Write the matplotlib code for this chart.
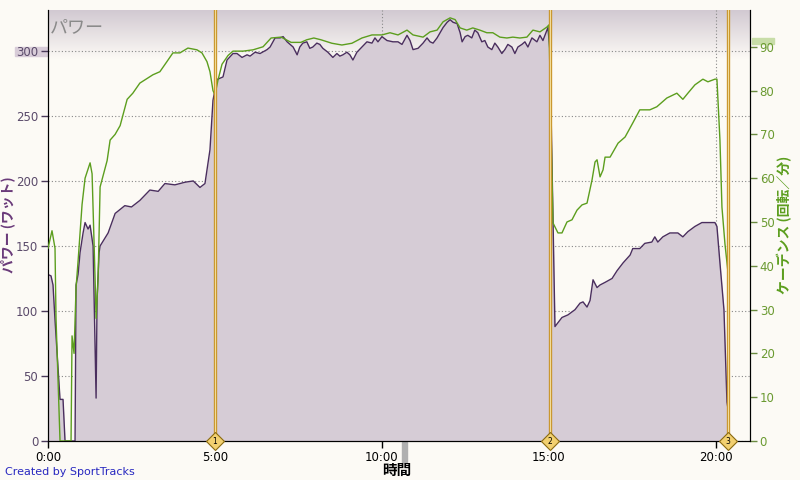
import numpy as np
import matplotlib.pyplot as plt
from matplotlib.ticker import FuncFormatter, MultipleLocator
from matplotlib.patches import Rectangle
from matplotlib.colors import LinearSegmentedColormap

plt.rcParams['font.family'] = ['DejaVu Sans', 'Noto Sans CJK JP']
JP = ['Noto Sans CJK JP', 'DejaVu Sans']

# power (W) vs. elapsed time (minutes)
power_t = [0.00, 0.09, 0.15, 0.21, 0.36, 0.45, 0.51, 0.81, 0.84, 0.90, 0.96, 1.05,
           1.11, 1.20, 1.26, 1.35, 1.44, 1.47, 1.53, 1.56, 1.80, 2.01, 2.30, 2.50,
           2.75, 3.05, 3.30, 3.50, 3.80, 4.10, 4.35, 4.55, 4.70, 4.85, 4.94, 5.06,
           5.24, 5.36, 5.54, 5.66, 5.81, 5.96, 6.05, 6.20, 6.35, 6.56, 6.65, 6.80,
           6.95, 7.04, 7.16, 7.25, 7.34, 7.46, 7.54, 7.63, 7.75, 7.84, 7.93, 8.05,
           8.14, 8.23, 8.38, 8.53, 8.65, 8.74, 8.83, 8.95, 9.04, 9.13, 9.25, 9.40,
           9.55, 9.70, 9.79, 9.88, 10.00, 10.15, 10.33, 10.48, 10.60, 10.75, 10.84,
           10.93, 11.08, 11.23, 11.35, 11.44, 11.53, 11.65, 11.74, 11.83, 11.95,
           12.04, 12.13, 12.25, 12.34, 12.40, 12.49, 12.57, 12.69, 12.78, 12.87,
           12.99, 13.08, 13.17, 13.29, 13.38, 13.47, 13.59, 13.68, 13.77, 13.89,
           13.98, 14.07, 14.19, 14.28, 14.37, 14.49, 14.64, 14.73, 14.82, 14.94,
           14.97, 15.03, 15.18, 15.39, 15.57, 15.78, 15.93, 16.02, 16.14, 16.23,
           16.32, 16.44, 16.53, 16.68, 16.89, 17.04, 17.22, 17.43, 17.51, 17.72,
           17.87, 18.08, 18.17, 18.26, 18.41, 18.62, 18.86, 19.01, 19.16, 19.37,
           19.58, 19.76, 19.97, 20.03, 20.12, 20.24, 20.33, 20.36]
power_w = [128, 127, 120, 93, 32, 32, 0, 0, 120, 128, 145, 160,
           168, 163, 166, 150, 33, 110, 145, 150, 160, 175, 181, 180,
           185, 193, 192, 198, 197, 199, 200, 195, 198, 224, 262, 278,
           280, 293, 298, 298, 295, 297, 296, 299, 298, 301, 303, 310,
           310, 311, 307, 305, 303, 297, 303, 306, 307, 302, 303, 306,
           305, 302, 299, 295, 298, 296, 297, 299, 297, 293, 299, 303,
           307, 306, 310, 307, 311, 308, 307, 307, 305, 312, 308,
           301, 302, 306, 310, 307, 306, 310, 314, 318, 322,
           324, 322, 321, 314, 307, 311, 312, 310, 316, 314,
           307, 308, 303, 301, 306, 303, 298, 301, 305, 303,
           298, 303, 305, 307, 303, 310, 307, 312, 308, 316,
           318, 300, 88, 95, 97, 101, 106, 107, 103, 108,
           124, 118, 120, 122, 125, 131, 137, 143, 148, 148,
           152, 153, 157, 153, 157, 160, 160, 157, 161, 165,
           168, 168, 168, 165, 137, 101, 30, 25]

# cadence (rpm) vs. elapsed time (minutes)
cad_t = [0.00, 0.12, 0.21, 0.24, 0.36, 0.69, 0.72, 0.78, 0.84, 0.90, 1.02, 1.11,
         1.26, 1.32, 1.41, 1.44, 1.50, 1.56, 1.77, 1.86, 2.01, 2.16, 2.37, 2.54,
         2.75, 3.14, 3.35, 3.56, 3.74, 3.95, 4.19, 4.46, 4.61, 4.76, 4.85, 4.94,
         5.00, 5.09, 5.21, 5.39, 5.54, 5.84, 6.14, 6.44, 6.68, 6.98, 7.28, 7.57,
         7.75, 7.96, 8.17, 8.50, 8.80, 9.10, 9.40, 9.70, 10.00, 10.24, 10.48,
         10.75, 10.93, 11.23, 11.44, 11.65, 11.83, 12.04, 12.19, 12.34, 12.54,
         12.72, 12.93, 13.14, 13.32, 13.53, 13.74, 13.92, 14.13, 14.34, 14.52,
         14.73, 14.94, 15.00, 15.12, 15.27, 15.39, 15.54, 15.69, 15.84, 15.99,
         16.14, 16.29, 16.38, 16.44, 16.53, 16.62, 16.68, 16.83, 17.07, 17.28,
         17.51, 17.72, 18.02, 18.23, 18.53, 18.83, 19.01, 19.16, 19.37, 19.61,
         19.76, 19.97, 20.03, 20.12, 20.18, 20.27, 20.36]
cad_rpm = [44, 48, 44, 28, 0, 0, 24, 20, 35, 41, 54, 60,
           63.5, 61, 37, 28, 37, 58, 64, 68.7, 70, 72, 78, 79.4,
           81.7, 83.6, 84.3, 86.6, 88.6, 88.6, 89.7, 89.3, 88.6, 86.6, 84.3, 80,
           79, 82.4, 86, 88, 89, 89, 89.3, 90, 92, 92.2, 91, 91,
           91.6, 92, 91.6, 90.8, 90.4, 90.8, 92, 92.7, 92.7, 93.2, 92.7,
           93.8, 92.7, 92.2, 93.4, 93.8, 95.7, 96.6, 96.2, 94.3, 93.8,
           94.3, 93.8, 93.2, 93.2, 92.2, 92, 92.2, 92, 92.2, 93.8,
           93.4, 94.5, 95, 49.8, 47.5, 47.5, 50, 50.5, 52.7, 53.9,
           54.3, 59.6, 63.7, 64.2, 60.3, 61.9, 64.8, 64.8, 68, 69.4,
           72.6, 75.6, 75.6, 76.3, 78.3, 79.4, 78, 79.4, 81.3, 82.6,
           82, 82.6, 82.6, 68.7, 53.4, 45, 38.6]

laps_t = [5.0, 15.02, 20.37]
laps_label = ['1', '2', '3']

bg = '#FCFAF5'
fig = plt.figure(figsize=(8, 4.8), dpi=100, facecolor=bg)
ax = fig.add_axes([0.06, 0.08125, 0.8775, 0.898])
ax.set_facecolor(bg)
ax.set_xlim(0, 21.02)
ax.set_ylim(0, 331.5)

# header gradient at the top of the plot
head = LinearSegmentedColormap.from_list('head', [bg, '#D2C9D2'])
grad = np.linspace(1, 0, 64).reshape(-1, 1)
ax.imshow(grad, extent=[0, 21.02, 294, 331.5], aspect='auto', cmap=head,
          vmin=0, vmax=1, zorder=0, origin='upper')

# grid
for y in range(0, 331, 50):
    ax.axhline(y, color='#888888', lw=0.8, ls=(0, (1, 2)), zorder=1)
for x in [10, 20]:
    ax.axvline(x, color='#888888', lw=0.8, ls=(0, (1, 2)), zorder=1)

ax.fill_between(power_t, power_w, 0, color='#D6CCD6', zorder=2, lw=0)
ax.plot(power_t, power_w, color='#4A2E5E', lw=1, zorder=3)

ax2 = ax.twinx()
ax2.set_ylim(0, 98.4)
ax2.plot(cad_t, cad_rpm, color='#5C9E1E', lw=1, zorder=4)

for t, lab in zip(laps_t, laps_label):
    ax2.axvline(t, color='#C8952A', lw=2.4, zorder=5)
    ax2.axvline(t, color='#F2DC98', lw=0.8, zorder=6)
    ax2.plot(t, 0, marker='D', ms=9, mfc='#F2D070', mec='#8A6A10', mew=0.8,
             clip_on=False, zorder=7)
    ax2.text(t, 0, lab, fontsize=5.5, ha='center', va='center', zorder=8,
             clip_on=False)

# axes styling
ax.xaxis.set_major_locator(MultipleLocator(5))
ax.xaxis.set_major_formatter(FuncFormatter(lambda v, p: f'{int(v)}:00'))
ax.yaxis.set_major_locator(MultipleLocator(50))
ax2.yaxis.set_major_locator(MultipleLocator(10))
ax2.set_ylim(0, 98.4)
ax.tick_params(axis='x', colors='black', labelsize=8.5, length=5, width=1, pad=2)
ax.tick_params(axis='y', colors='#4A3A5A', labelcolor='#5A4A6A', labelsize=8.5,
               length=5, width=1, pad=2)
ax2.tick_params(axis='y', colors='#6A8A40', labelcolor='#6A9A30', labelsize=8.5,
                length=5, width=1, pad=2)
for a in (ax, ax2):
    a.spines['top'].set_visible(False)
    a.spines['left'].set_color('black')
    a.spines['right'].set_color('black')
    a.spines['bottom'].set_color('black')

# highlight boxes behind 300 and 90, scroll handle under the x axis
fig.add_artist(Rectangle((15 / 800, 1 - 56 / 480), 32 / 800, 9 / 480,
                         color='#D8CCD8', zorder=0, transform=fig.transFigure))
fig.add_artist(Rectangle((752 / 800, 1 - 44 / 480), 22 / 800, 6 / 480,
                         color='#C8DDA8', zorder=0, transform=fig.transFigure))
fig.add_artist(Rectangle((402 / 800, 1 - 462 / 480), 5 / 800, 20 / 480,
                         color='#B0B0B0', zorder=0, transform=fig.transFigure))

ax.text(0.05, 318, 'パワー', family=JP, fontsize=13, color='#8A8A8A',
        fontstyle='italic', va='center', zorder=9)
fig.text(8 / 800, 1 - 225 / 480, 'パワー (ワット)', family=JP, fontsize=10,
         color='#6A3A7A', fontweight='bold', rotation=90, ha='center', va='center')
fig.text(785 / 800, 1 - 225 / 480, 'ケーデンス (回転／分)', family=JP, fontsize=10,
         color='#5C9E1E', fontweight='bold', rotation=90, ha='center', va='center')
fig.text(397 / 800, 1 - 470 / 480, '時間', family=JP, fontsize=10.5,
         fontweight='bold', ha='center', va='center')
fig.text(5 / 800, 1 - 472 / 480, 'Created by SportTracks', fontsize=8,
         color='#2828C0', va='center')

fig.savefig('out.png', dpi=100, facecolor=bg)
